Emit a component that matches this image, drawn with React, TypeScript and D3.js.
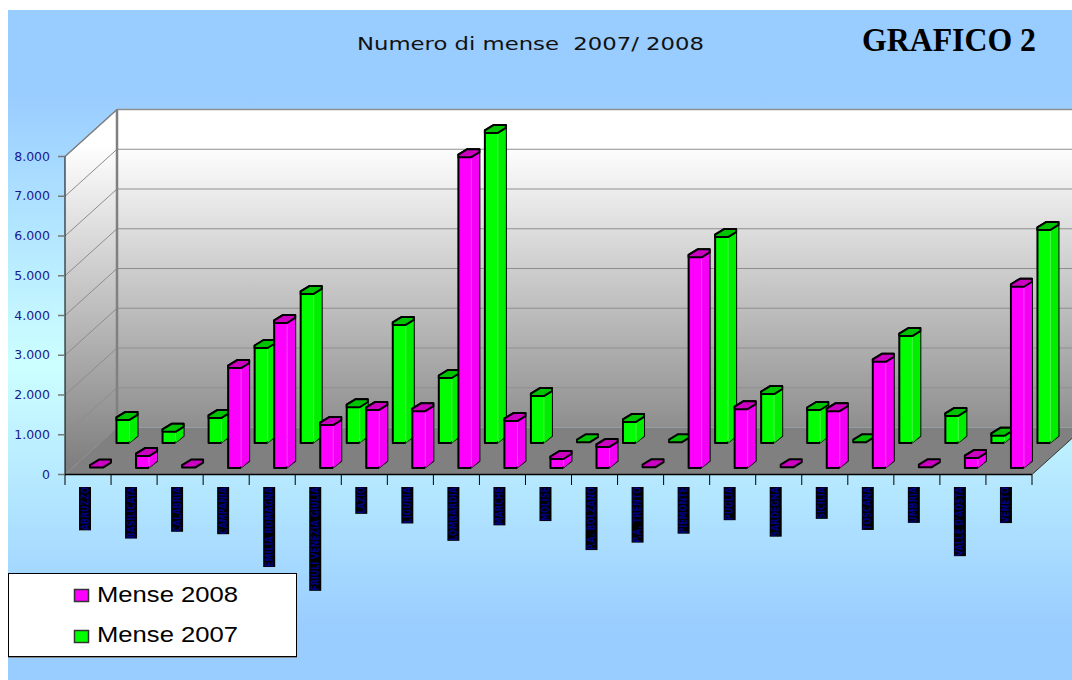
import React from "react";
import * as d3 from "d3";

const categories = ["ABRUZZO","BASILICATA","CALABRIA","CAMPANIA","EMILIA ROMAGNA","FRIULI VENEZIA GIULIA","LAZIO","LIGURIA","LOMBARDIA","MARCHE","MOLISE","P.A. BOLZANO","P.A. TRENTO","PIEMONTE","PUGLIA","SARDEGNA","SICILIA","TOSCANA","UMBRIA","VALLE D'AOSTA","VENETO"];
const mense2008 = [10,300,10,2515,3650,1080,1460,1430,7820,1180,226,530,20,5300,1480,20,1430,2670,20,250,4560];
const mense2007 = [580,280,630,2390,3750,900,2970,1635,7800,1180,20,530,20,5180,1230,830,20,2690,680,180,5360];
const yTicks = [0,1000,2000,3000,4000,5000,6000,7000,8000];
const formatTick = (v: number) => d3.format(",")(v).replace(/,/g, ".");

const x0 = 65, x1 = 1032, yFloor = 474.5, yTop = 156.5, dx = 52, dy = 47;
const x = d3.scaleBand<string>().domain(categories).range([x0, x1]);
const y = d3.scaleLinear().domain([0, 8000]).range([yFloor, yTop]);
const step = x.step();
const line = d3.line();

function Bar({ left, base, h, front, top, side }: any) {
  const yb = base, yt = base - h;
  const outline: [number, number][] = [[left, yb],[left + 12, yb],[left + 21, yb - 7],[left + 21, yt - 8],[left + 9, yt - 8],[left, yt - 2.5]];
  const sidePts: [number, number][] = [[left + 13, yb],[left + 21, yb - 7],[left + 21, yt - 7],[left + 13, yt]];
  const topPts: [number, number][] = [[left, yt - 2.5],[left + 9, yt - 8],[left + 21, yt - 8],[left + 21, yt - 5],[left + 13, yt],[left, yt]];
  const common = { stroke: "#000", strokeWidth: 2, strokeLinejoin: "round" as const };
  return (
    <g>
      {h > 1 && <path d={line(outline) + "Z"} fill={front} {...common} />}
      {h > 1 && <path d={line(sidePts) + "Z"} fill={side} stroke="none" />}
      {h > 1 && <line x1={left + 13} x2={left + 13} y1={yb - 2} y2={yt + 1} stroke="#ffffff" strokeOpacity={0.35} strokeWidth={0.8} />}
      <path d={line(topPts) + "Z"} fill={top} {...common} />
    </g>
  );
}

export default function App() {
  const measure = document.createElement("canvas").getContext("2d")!;
  measure.font = "bold 8px 'DejaVu Sans'";
  return (
    <svg width={1072} height={680} style={{ position: "absolute", left: 0, top: 0 }} fontFamily="'DejaVu Sans'">
      <defs>
        <linearGradient id="bg" x1="0" y1="0" x2="0" y2="1">
          <stop offset="0.12" stopColor="#99ccff" />
          <stop offset="0.53" stopColor="#ccffff" />
          <stop offset="0.93" stopColor="#99ccff" />
        </linearGradient>
        <linearGradient id="wall" gradientUnits="userSpaceOnUse" x1="0" y1="108" x2="0" y2="474">
          <stop offset="0" stopColor="#ffffff" />
          <stop offset="0.1" stopColor="#ffffff" />
          <stop offset="1" stopColor="#7c7c7c" />
        </linearGradient>
      </defs>
      <rect x={0} y={0} width={1072} height={680} fill="#fff" />
      <rect x={8} y={10} width={1064} height={670} fill="url(#bg)" />

      <rect x={x0 + dx} y={yTop - dy} width={1072 - x0 - dx} height={yFloor - yTop} fill="url(#wall)" />
      <path d={line([[x0, yTop],[x0 + dx, yTop - dy],[x0 + dx, yFloor - dy],[x0, yFloor]]) + "Z"} fill="url(#wall)" />
      <path d={line([[x0, yFloor],[x1, yFloor],[1072, yFloor - dy * 40 / dx],[1072, yFloor - dy],[x0 + dx, yFloor - dy]]) + "Z"} fill="#808080" />
      {yTicks.map((t) => (
        <g key={t}>
          <line x1={x0} y1={y(t)} x2={x0 + dx} y2={y(t) - dy} stroke="#8c8c8c" strokeWidth={1} />
          {t > 0 && <line x1={x0 + dx} y1={y(t) - dy} x2={1072} y2={y(t) - dy} stroke="#8f8f8f" strokeWidth={t === 8000 ? 1.5 : 1.2} />}
        </g>
      ))}
      <line x1={x0 + dx} x2={x0 + dx} y1={yTop - dy} y2={yFloor - dy} stroke="#808080" strokeWidth={2.5} />
      <line x1={x0} x2={x0 + dx} y1={yTop} y2={yTop - dy} stroke="#808080" strokeWidth={1.5} />
      <line x1={x1} x2={1072} y1={yFloor} y2={yFloor - dy * 40 / dx} stroke="#333" strokeWidth={1} />

      {categories.map((c, i) => (
        <Bar key={c} left={(x(c) as number) + 51.5} base={443}
          h={yFloor - y(mense2007[i])} front="#00ff00" side="#00ee00" top="#00c400" />
      ))}
      {categories.map((c, i) => (
        <Bar key={c} left={(x(c) as number) + 25} base={468}
          h={yFloor - y(mense2008[i])} front="#ff00ff" side="#f400f4" top="#cc00c0" />
      ))}

      <line x1={x0} x2={x0} y1={yTop} y2={yFloor} stroke="#000" strokeWidth={1} />
      <line x1={x0} x2={x1} y1={yFloor} y2={yFloor} stroke="#000" strokeWidth={1.5} />
      {yTicks.map((t) => (
        <g key={t}>
          <line x1={58} x2={x0} y1={y(t)} y2={y(t)} stroke="#777" strokeWidth={1.5} />
          <text x={50} y={y(t) + 4} textAnchor="end" fontSize={12.5} fill="#1a1a8c">{formatTick(t)}</text>
        </g>
      ))}
      {d3.range(categories.length + 1).map((i) => (
        <line key={i} x1={x0 + i * step} x2={x0 + i * step} y1={yFloor} y2={485} stroke="#000" strokeWidth={1} />
      ))}
      {categories.map((c) => {
        const cx = (x(c) as number) + 20;
        const len = measure.measureText(c).width;
        return (
          <g key={c}>
            <rect x={cx - 6} y={487} width={12} height={len} fill="#000" />
            <text transform={`translate(${cx + 3.5},${487 + len}) rotate(-90)`} fontSize={10} fontWeight="bold" fill="#000080"
              textLength={len} lengthAdjust="spacingAndGlyphs">{c}</text>
          </g>
        );
      })}

      <text x={357} y={50} fontSize={17} textLength={347} lengthAdjust="spacingAndGlyphs" xmlSpace="preserve" fill="#111">Numero di mense  2007/ 2008</text>
      <text x={862} y={51} fontSize={33} fontWeight="bold" fontFamily="'Liberation Serif'" fill="#000" textLength={174} lengthAdjust="spacingAndGlyphs">GRAFICO 2</text>

      <rect x={8.5} y={573.5} width={288} height={83} fill="#fff" stroke="#000" strokeWidth={1} />
      <line x1={8} x2={297} y1={657.5} y2={657.5} stroke="#888" strokeWidth={1} />
      <rect x={74.5} y={589.5} width={14} height={12} fill="#ff00ff" stroke="#333" strokeWidth={1.5} />
      <text x={97} y={602} fontSize={22} fontFamily="'Liberation Sans'" fill="#000" textLength={141} lengthAdjust="spacingAndGlyphs">Mense 2008</text>
      <rect x={74.5} y={630.5} width={14} height={12} fill="#00ff00" stroke="#333" strokeWidth={1.5} />
      <text x={97} y={642} fontSize={22} fontFamily="'Liberation Sans'" fill="#000" textLength={141} lengthAdjust="spacingAndGlyphs">Mense 2007</text>
    </svg>
  );
}
